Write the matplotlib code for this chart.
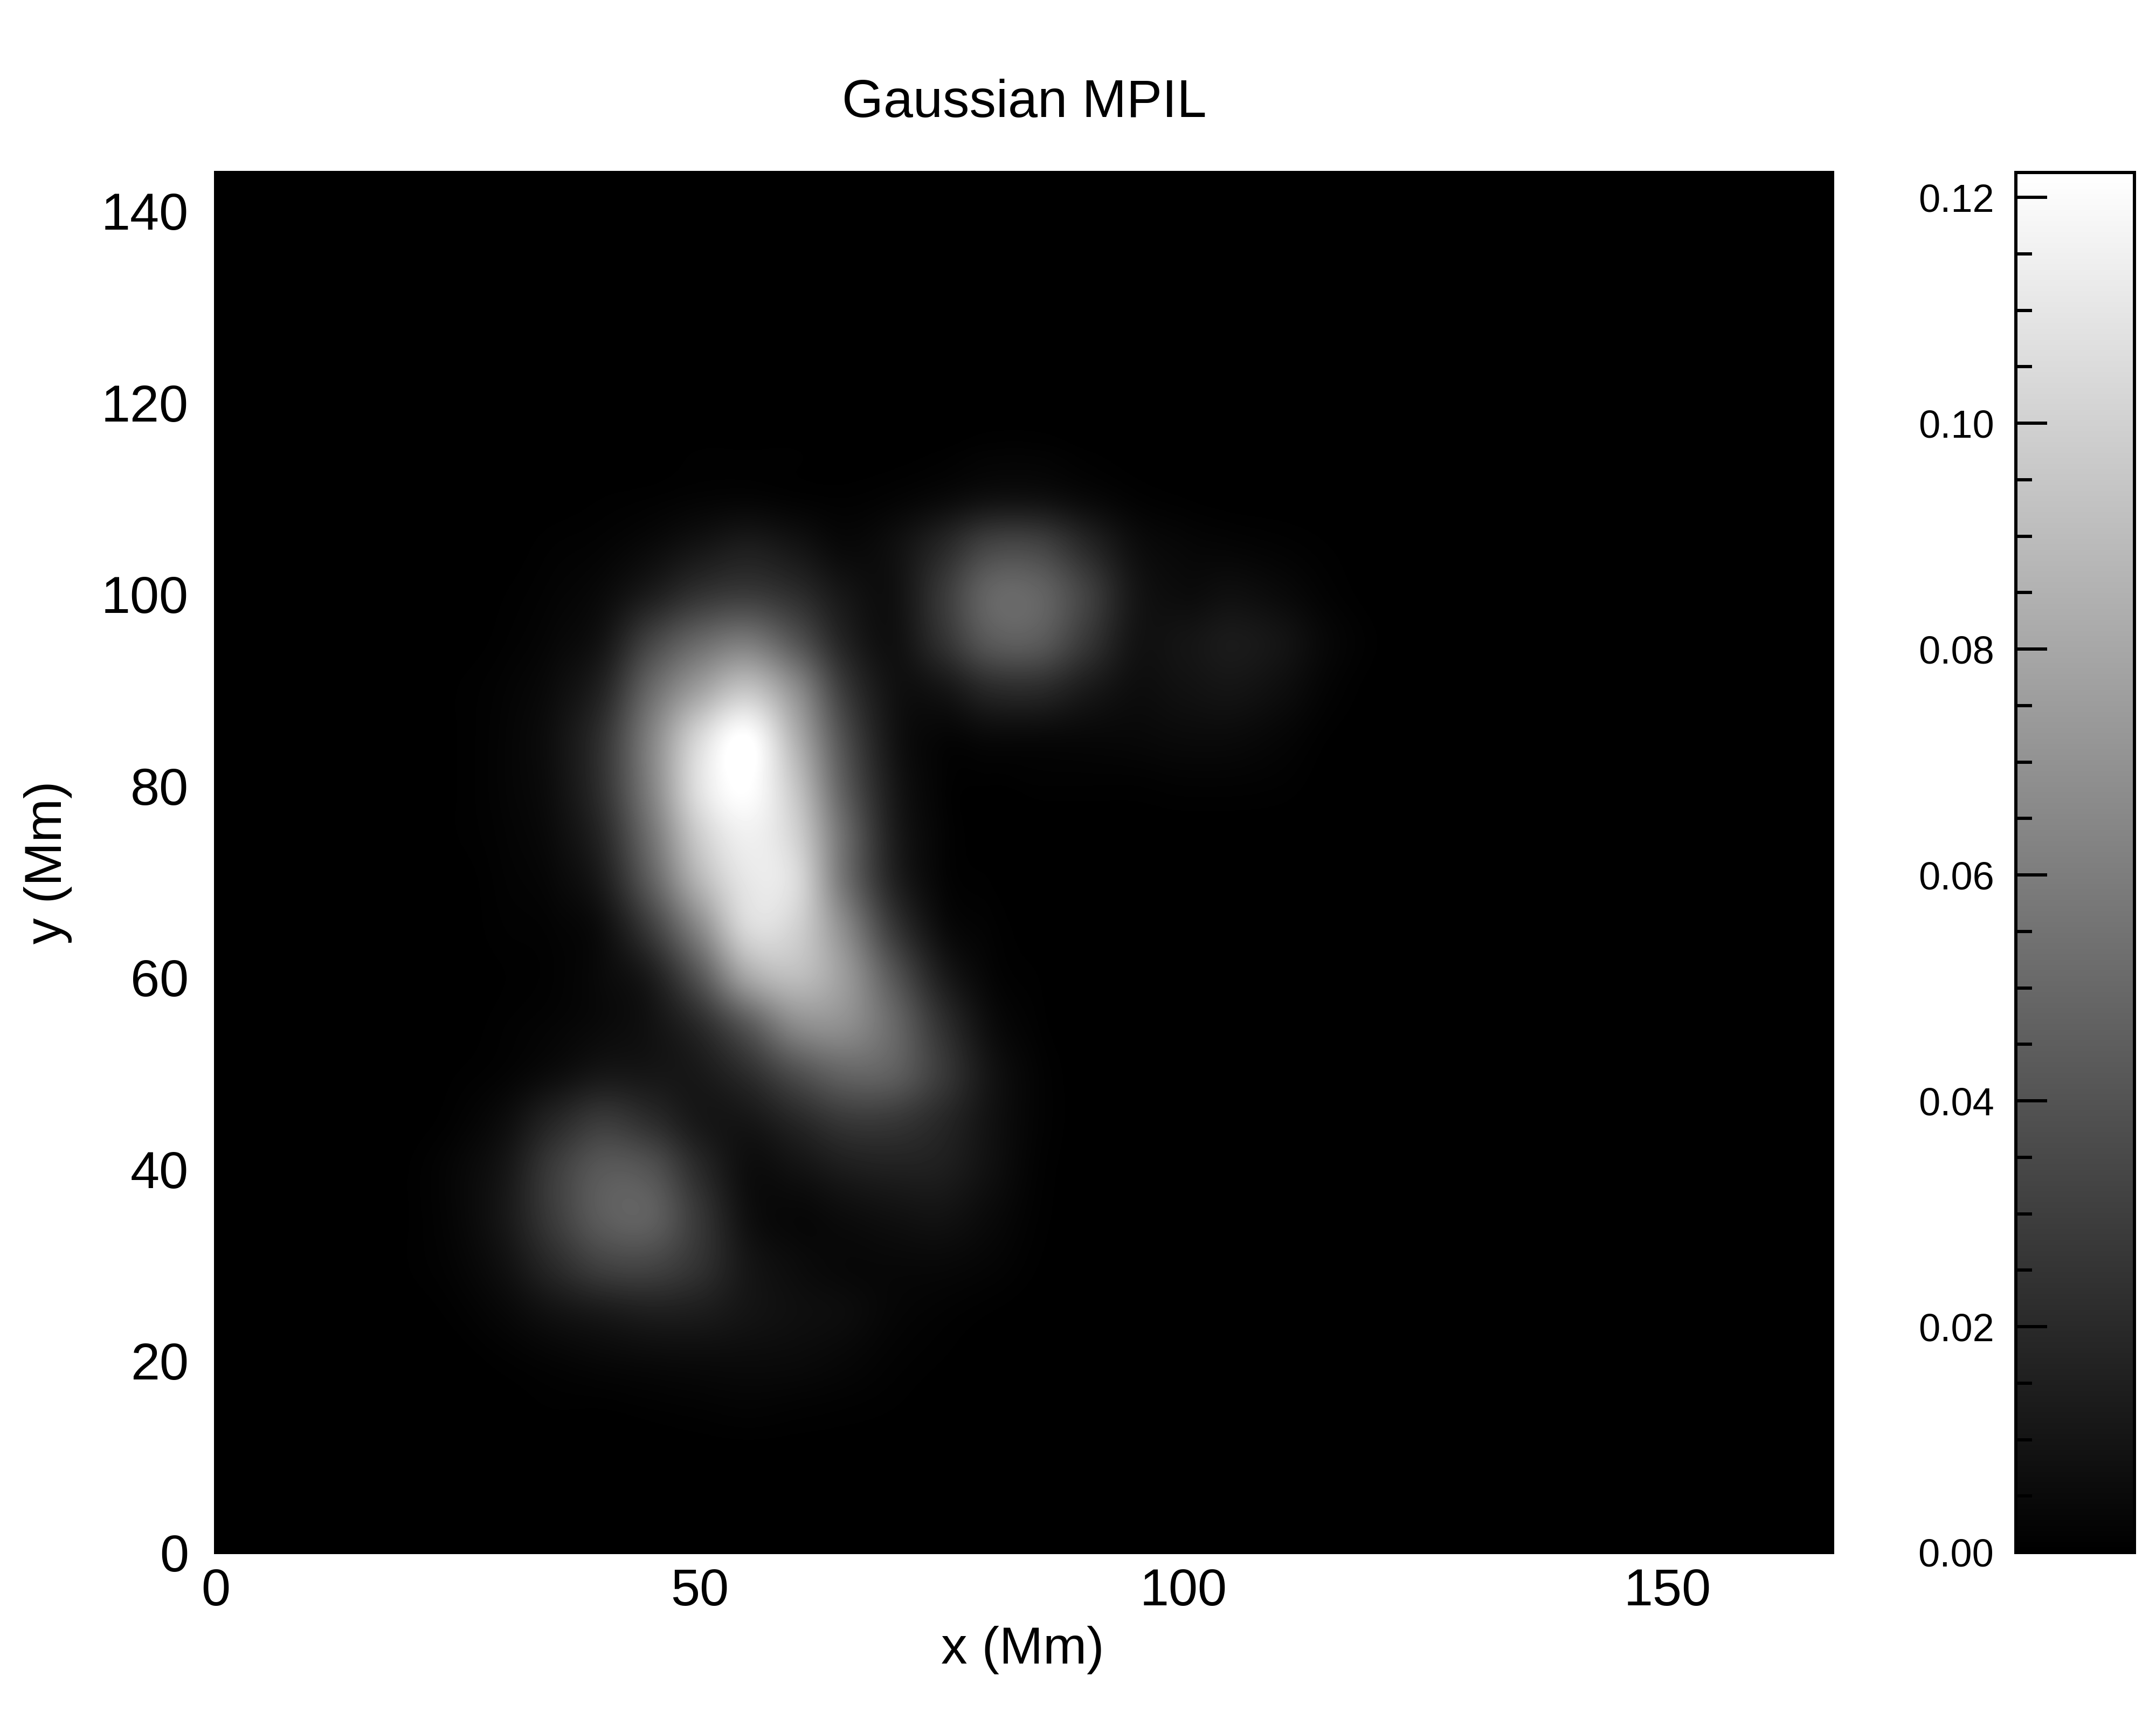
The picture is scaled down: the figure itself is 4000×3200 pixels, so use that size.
import numpy as np
import matplotlib
matplotlib.use("Agg")
import matplotlib.pyplot as plt
from matplotlib.ticker import MultipleLocator

plt.rcParams['font.family'] = ['Liberation Sans', 'DejaVu Sans']

TITLE = "Gaussian MPIL"
XLABEL = "x (Mm)"
YLABEL = "y (Mm)"
VMAX = 0.1222
X_TICKS = [0, 50, 100, 150]
Y_TICKS = [0, 20, 40, 60, 80, 100, 120, 140]
CBAR_TICKS = [0.00, 0.02, 0.04, 0.06, 0.08, 0.10, 0.12]

# sample positions (Mm) of the values
x_samples = list(range(15, 130, 5))
y_samples = list(range(120, 5, -5))

# brightness (0-255), rows from y=120 down to y=10, columns x=15..125
brightness = [
 # x:15 20 25 30 35 40 45  50  55  60  65  70  75  80  85  90  95 100 105 110 115 120 125
    [0, 0, 0, 0, 0, 0, 0,  0,  0,  0,  0,  0,  0,  0,  0,  0,  0,  0,  0,  0,  0,  0,  0],  # 120
    [0, 0, 0, 0, 0, 0, 0,  1,  1,  1,  0,  0,  1,  3,  3,  1,  0,  0,  0,  0,  0,  0,  0],  # 115
    [0, 0, 0, 0, 0, 1, 2,  4,  5,  3,  2,  4,  9, 16, 16,  9,  3,  1,  0,  0,  0,  0,  0],  # 110
    [0, 0, 0, 0, 2, 4,10, 20, 28, 20,  9, 15, 38, 68, 68, 40, 14,  7,  5,  3,  1,  0,  0],  # 105
    [0, 0, 0, 1, 4,10,28, 50, 58, 45, 22, 16, 55,100,100, 65, 22, 12, 15, 10,  3,  0,  0],  # 100
    [0, 0, 0, 2, 7,20,68,105,122, 85, 35, 16, 48, 88, 90, 55, 20, 20, 26, 20,  7,  1,  0],  # 95
    [0, 0, 1, 4,12,36,105,160,195,142,58, 18, 20, 40, 42, 26, 14, 17, 20, 14,  4,  0,  0],  # 90
    [0, 0, 1, 5,16,50,130,215,255,175,78, 20,  6,  9,  9,  8,  8, 10, 10,  6,  1,  0,  0],  # 85
    [0, 0, 1, 5,15,50,130,225,255,195,92, 25,  4,  1,  2,  2,  2,  3,  3,  2,  0,  0,  0],  # 80
    [0, 0, 1, 4,12,40,115,205,240,208,108,30,  5,  0,  0,  0,  0,  0,  0,  0,  0,  0,  0],  # 75
    [0, 0, 0, 3, 8,28,95,180,230,218,115, 36,  6,  1,  0,  0,  0,  0,  0,  0,  0,  0,  0],  # 70
    [0, 0, 0, 2, 4,14,60,135,215,208,140, 58, 13,  3,  0,  0,  0,  0,  0,  0,  0,  0,  0],  # 65
    [0, 0, 0, 1, 3,10,28, 85,165,188,155, 88, 30,  6,  1,  0,  0,  0,  0,  0,  0,  0,  0],  # 60
    [0, 0, 0, 2, 5,10,18, 42, 88,138,142,105, 50, 13,  2,  0,  0,  0,  0,  0,  0,  0,  0],  # 55
    [0, 0, 1, 4,12,22,22, 25, 45, 78,100, 95, 58, 20,  4,  0,  0,  0,  0,  0,  0,  0,  0],  # 50
    [0, 0, 3,13,38,58,45, 24, 22, 38, 55, 55, 40, 18,  4,  0,  0,  0,  0,  0,  0,  0,  0],  # 45
    [0, 1, 7,22,60,88,82, 42, 14, 18, 28, 32, 30, 16,  3,  0,  0,  0,  0,  0,  0,  0,  0],  # 40
    [0, 1, 7,24,60,92,95, 55, 16,  8, 12, 16, 18, 10,  2,  0,  0,  0,  0,  0,  0,  0,  0],  # 35
    [0, 1, 5,17,42,65,68, 50, 22, 12,  8,  8,  8,  5,  1,  0,  0,  0,  0,  0,  0,  0,  0],  # 30
    [0, 0, 2, 8,18,25,30, 28, 20, 15, 12,  6,  3,  1,  0,  0,  0,  0,  0,  0,  0,  0,  0],  # 25
    [0, 0, 0, 2, 5, 8,10, 11, 11, 10,  7,  3,  1,  0,  0,  0,  0,  0,  0,  0,  0,  0,  0],  # 20
    [0, 0, 0, 0, 1, 1, 2,  3,  4,  3,  2,  1,  0,  0,  0,  0,  0,  0,  0,  0,  0,  0,  0],  # 15
    [0, 0, 0, 0, 0, 0, 0,  0,  0,  0,  0,  0,  0,  0,  0,  0,  0,  0,  0,  0,  0,  0,  0],  # 10
]

W, H = 4000, 3200
fig = plt.figure(figsize=(10, 8), dpi=400, facecolor="white")
ax = fig.add_axes([400 / W, 1 - 2880 / H, 3000 / W, 2560 / H], facecolor="black")
cax = fig.add_axes([3740 / W, 1 - 2880 / H, 220 / W, 2560 / H])

values = np.array(brightness, dtype=float) / 255.0 * VMAX
half = (x_samples[1] - x_samples[0]) / 2
im = ax.imshow(values, cmap="gray", vmin=0, vmax=VMAX, aspect="auto", origin="upper",
               interpolation="catrom", interpolation_stage="data",
               extent=(x_samples[0] - half, x_samples[-1] + half,
                       y_samples[-1] - half, y_samples[0] + half))
ax.set_xlim(0, 167.04)
ax.set_ylim(0, 144.0)
ax.set_xticks(X_TICKS)
ax.set_yticks(Y_TICKS)
ax.tick_params(axis="x", labelsize=17.5, direction="in", length=10.4, width=1.08, pad=5, top=True)
ax.tick_params(axis="y", labelsize=17.5, direction="in", length=10.4, width=1.08, pad=9, right=True)
ax.xaxis.set_minor_locator(MultipleLocator(10))
ax.yaxis.set_minor_locator(MultipleLocator(5))
ax.tick_params(which="minor", direction="in", length=5.4, width=1.08, top=True, right=True)
for s in ax.spines.values():
    s.set_linewidth(1.08)

ax.set_title(TITLE, fontsize=17.8, x=0.5, y=(2880 - 192) / 2560, va="center", pad=0)
ax.set_xlabel(XLABEL, fontsize=17.5)
ax.xaxis.set_label_coords(1897 / W, 1 - 3061 / H, transform=fig.transFigure)
ax.xaxis.label.set_verticalalignment("center")
ax.set_ylabel(YLABEL, fontsize=17.5)
ax.yaxis.set_label_coords(89 / W, 1 - 1600 / H, transform=fig.transFigure)
ax.yaxis.label.set_verticalalignment("center")

cb = fig.colorbar(im, cax=cax)
cb.set_ticks(CBAR_TICKS)
cb.ax.set_yticklabels([f"{t:.2f}" for t in CBAR_TICKS])
cb.ax.yaxis.set_minor_locator(MultipleLocator(0.005))
cb.ax.yaxis.set_ticks_position("left")
cb.ax.tick_params(which="major", labelsize=13, direction="in", length=10.4, width=1.08, pad=7.3)
cb.ax.tick_params(which="minor", direction="in", length=5.4, width=1.08)
cb.outline.set_linewidth(1.08)

fig.savefig("out.png", dpi=400)
